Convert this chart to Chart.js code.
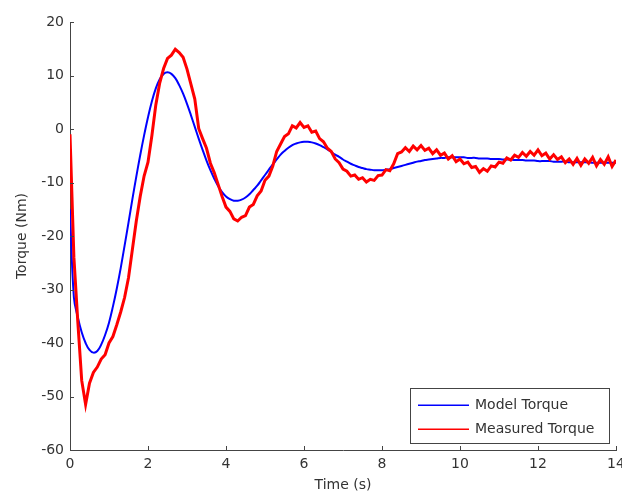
<!DOCTYPE html>
<html>
<head>
<meta charset="utf-8">
<script src="https://cdn.jsdelivr.net/npm/chart.js@4.4.0/dist/chart.umd.min.js"></script>
<style>
  body { margin: 0; background: #fff; }
  #wrap { width: 622px; height: 494px; }
</style>
</head>
<body>
<div id="wrap"><canvas id="grafico"></canvas></div>
<script>
// time step of the samples (s)
const DT = 0.1;

const modelTorque = [
  -15, -31.5, -35.2, -38, -40, -41.3, -41.8, -41.5, -40.3, -38.5,
  -36.2, -33.2, -29.8, -26, -21.8, -17.5, -13.1, -8.9, -4.9, -1.2,
  2.2, 5.2, 7.6, 9.3, 10.3, 10.6, 10.3, 9.5, 8.2, 6.6,
  4.7, 2.6, 0.4, -1.8, -3.9, -5.9, -7.7, -9.3, -10.7, -11.8,
  -12.6, -13.1, -13.4, -13.4, -13.2, -12.8, -12.2, -11.4, -10.6, -9.6,
  -8.6, -7.6, -6.6, -5.7, -4.8, -4.1, -3.5, -3.0, -2.7, -2.5,
  -2.4, -2.4, -2.5, -2.7, -3.0, -3.4, -3.8, -4.3, -4.8, -5.2,
  -5.7, -6.1, -6.5, -6.8, -7.1, -7.3, -7.5, -7.6, -7.7, -7.7,
  -7.7, -7.6, -7.5, -7.3, -7.1, -6.9, -6.7, -6.5, -6.3, -6.1,
  -6.0, -5.8, -5.7, -5.6, -5.5, -5.4, -5.4, -5.3, -5.3, -5.3,
  -5.3, -5.3, -5.4, -5.4, -5.4, -5.5, -5.5, -5.5, -5.6, -5.6,
  -5.6, -5.7, -5.7, -5.7, -5.8, -5.8, -5.8, -5.9, -5.9, -5.9,
  -6.0, -6.0, -6.0, -6.0, -6.1, -6.1, -6.1, -6.1, -6.2, -6.2,
  -6.2, -6.2, -6.2, -6.2, -6.3, -6.3, -6.3, -6.3, -6.3, -6.3,
  -6.3
];

const measuredTorque = [
  -1, -24, -36, -47, -51.5, -47.5, -45.5, -44.5, -43, -42.2,
  -40, -38.8, -36.6, -34.2, -31.5, -27.8, -22.5, -17.2, -12.6, -8.8,
  -6.2, -1.2, 4.5, 8.6, 11.3, 13.2, 13.8, 14.9, 14.3, 13.4,
  11.2, 8.4, 5.6, 0.1, -1.8, -3.6, -6.4, -8.2, -10.4, -12.6,
  -14.6, -15.4, -16.8, -17.2, -16.5, -16.2, -14.6, -14.1, -12.5, -11.6,
  -9.6, -8.8, -6.9, -4.2, -2.8, -1.4, -0.9, 0.6, 0.2, 1.2,
  0.3, 0.6, -0.6, -0.4, -1.8, -2.4, -3.6, -4.2, -5.6, -6.3,
  -7.5, -7.9, -8.8, -8.6, -9.4, -9.1, -9.9, -9.4, -9.6, -8.7,
  -8.6, -7.6, -7.8, -6.5, -4.6, -4.3, -3.5, -4.2, -3.2, -3.9,
  -3.1, -4.0, -3.6, -4.6, -3.9, -4.9, -4.5, -5.6, -5.0, -6.1,
  -5.6, -6.5, -6.2, -7.2, -7.0, -8.1, -7.4, -7.9, -6.9, -7.1,
  -6.2, -6.4, -5.4, -5.8, -4.9, -5.3, -4.4, -5.1, -4.2, -4.9,
  -3.9, -5.0, -4.5, -5.6, -4.8, -5.7, -5.2, -6.3, -5.6, -6.6,
  -5.5, -6.8, -5.6, -6.4, -5.3, -6.9, -5.7, -6.6, -5.2, -7.0,
  -5.8
];

const seriesLabels = ['Model Torque', 'Measured Torque'];
const seriesColors = ['#0000ff', '#ff0000'];
const xTicks = [0, 2, 4, 6, 8, 10, 12, 14];
const yTicks = [-60, -50, -40, -30, -20, -10, 0, 10, 20];

const FONT = { family: 'DejaVu Sans', size: 14 };
const INK = '#444';

function toPoints(values) {
  return values.map((v, i) => ({ x: +(i * DT).toFixed(2), y: v }));
}

// MATLAB style: small ticks pointing into the plot + legend box inside
const matlabBits = {
  id: 'matlabBits',
  afterDraw(chart) {
    const c = chart.ctx;
    const xs = chart.scales.x, ys = chart.scales.y;
    const a = chart.chartArea;
    c.save();
    c.strokeStyle = INK;
    c.lineWidth = 1;
    c.beginPath();
    xTicks.forEach(t => {
      const px = Math.round(xs.getPixelForValue(t)) + 0.5;
      c.moveTo(px, a.bottom);
      c.lineTo(px, a.bottom - 4);
    });
    yTicks.forEach(t => {
      const py = Math.round(ys.getPixelForValue(t)) + 0.5;
      c.moveTo(a.left, py);
      c.lineTo(a.left + 4, py);
    });
    c.stroke();

    // legend
    const bx = 410.5, by = 388.5, bw = 199, bh = 55;
    c.fillStyle = '#fff';
    c.fillRect(bx, by, bw, bh);
    c.strokeStyle = INK;
    c.strokeRect(bx, by, bw, bh);
    c.font = FONT.size + 'px ' + FONT.family;
    c.textBaseline = 'middle';
    seriesLabels.forEach((lab, i) => {
      const ly = by + 17 + i * 24;
      c.fillStyle = seriesColors[i];
      c.fillRect(418, ly - 1, 51, 1.5);
      c.fillStyle = '#333';
      c.fillText(lab, 475, ly);
    });
    c.restore();
  }
};

new Chart(document.getElementById('grafico'), {
  type: 'line',
  data: {
    datasets: [
      {
        label: seriesLabels[0],
        data: toPoints(modelTorque),
        borderColor: seriesColors[0],
        borderWidth: 2,
        pointRadius: 0,
        tension: 0.4,
        order: 2
      },
      {
        label: seriesLabels[1],
        data: toPoints(measuredTorque),
        borderColor: seriesColors[1],
        borderWidth: 3,
        pointRadius: 0,
        tension: 0,
        order: 1
      }
    ]
  },
  options: {
    responsive: true,
    maintainAspectRatio: false,
    animation: false,
    layout: { padding: { left: 0, right: 6, top: 22, bottom: 0 } },
    plugins: { legend: { display: false }, tooltip: { enabled: false } },
    scales: {
      x: {
        type: 'linear',
        min: 0,
        max: 14,
        afterBuildTicks: s => { s.ticks = xTicks.map(v => ({ value: v })); },
        ticks: { font: FONT, color: '#333', padding: 6, maxRotation: 0 },
        grid: { drawOnChartArea: false, drawTicks: false },
        border: { color: INK },
        title: { display: true, text: 'Time (s)', font: FONT, color: '#333', padding: { top: 1, bottom: 0 } },
        afterFit: s => { s.height = 44; s.paddingLeft = 0; s.paddingRight = 0; }
      },
      y: {
        min: -60,
        max: 20,
        afterBuildTicks: s => { s.ticks = yTicks.map(v => ({ value: v })); },
        ticks: { font: FONT, color: '#333', padding: 6 },
        grid: { drawOnChartArea: false, drawTicks: false },
        border: { color: INK },
        title: { display: true, text: 'Torque (Nm)', font: FONT, color: '#333', padding: { top: 14, bottom: 0 } },
        afterFit: s => { s.width = 70; s.paddingTop = 0; s.paddingBottom = 0; }
      }
    }
  },
  plugins: [matlabBits]
});
</script>
</body>
</html>
